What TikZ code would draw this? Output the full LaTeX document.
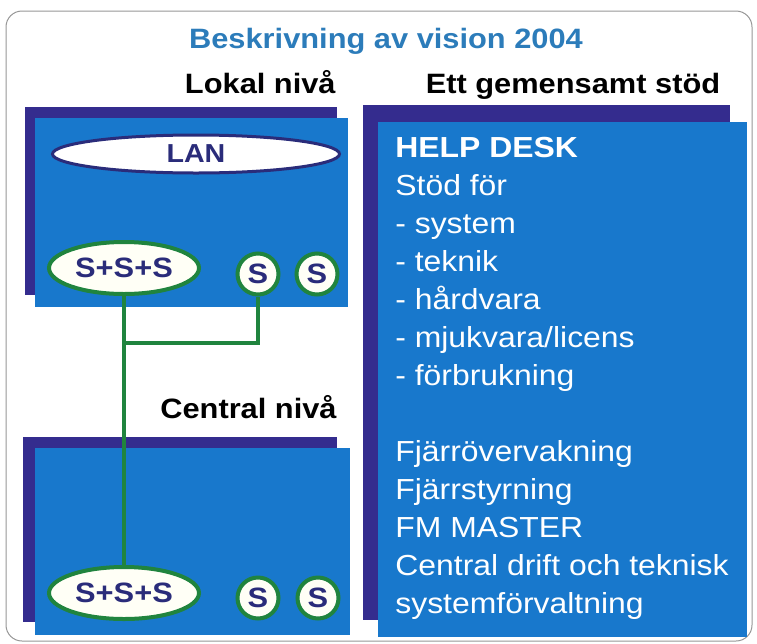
\documentclass[tikz,border=0pt]{standalone}
\usepackage{fontspec}
\setmainfont[FakeStretch=1.1]{Liberation Sans}
\usetikzlibrary{shapes.geometric}
\definecolor{boxblue}{RGB}{24,120,204}
\definecolor{boxpurple}{RGB}{52,44,142}
\definecolor{linkgreen}{RGB}{32,132,62}
\definecolor{navytext}{RGB}{42,44,122}
\definecolor{titleblue}{RGB}{44,124,186}
\tikzset{every picture/.style={line width=0.75pt}}
\tikzset{
  boxback/.style={fill=boxpurple, draw=none},
  boxfront/.style={fill=boxblue, draw=none},
  lanoval/.style={ellipse, draw=navytext, line width=3pt, fill=white, inner sep=0pt,
    minimum width=287pt, minimum height=38pt, text=navytext, font=\fontsize{26}{30}\selectfont\bfseries},
  srvoval/.style={ellipse, draw=linkgreen, line width=4pt, fill={rgb,255:red,255;green,255;blue,246}, inner sep=0pt,
    minimum width=150pt, minimum height=52pt, text=navytext, font=\fontsize{28}{30}\selectfont\bfseries},
  srvdot/.style={circle, draw=linkgreen, line width=4pt, fill={rgb,255:red,255;green,255;blue,246}, inner sep=0pt,
    minimum size=41pt, text=navytext, font=\fontsize{28}{30}\selectfont\bfseries},
  link/.style={draw=linkgreen, line width=4pt},
  heading/.style={inner sep=0pt, font=\fontsize{28}{30}\selectfont\bfseries},
  bodytext/.style={anchor=base west, inner sep=0pt, text=white, font=\fontsize{29}{30}\selectfont}
}

\begin{document}
\begin{tikzpicture}[x=1pt,y=1pt,yscale=-1,xscale=1]
\useasboundingbox (0,0) rectangle (757,643);

%Shape: outer frame
\draw [color={rgb, 255:red, 150; green, 150; blue, 150 }, line width=1pt, rounded corners=16pt] (6,11) rectangle (752,641) ;

% Text Node
\node [heading, anchor=base, text=titleblue] (title) at (386,48) {Beskrivning av vision 2004};
% Text Node
\node [heading, anchor=base east] (lokal) at (336,93) {Lokal nivå};
% Text Node
\node [heading, anchor=base] (gemensam) at (573,93) {Ett gemensamt stöd};
% Text Node
\node [heading, anchor=base east] (central) at (337,418) {Central nivå};

%Shape: local level box
\fill [boxback] (25,107) rectangle (337,295) ;
\fill [boxfront] (35,118) rectangle (348,307) ;
%Shape: central level box
\fill [boxback] (23,437) rectangle (337,622) ;
\fill [boxfront] (35,448) rectangle (350,635) ;
%Shape: support box
\fill [boxback] (363,105) rectangle (730,620) ;
\fill [boxfront] (378,122) rectangle (747,637) ;

% LAN
\node [lanoval] (lan) at (196,154) {LAN};

% servers, local level
\node [srvoval] (sssLokal) at (124,268) {S+S+S};
\node [srvdot] (sLokalA) at (258,274) {S};
\node [srvdot] (sLokalB) at (317,274) {S};

% servers, central level
\node [srvoval] (sssCentral) at (124,593) {S+S+S};
\node [srvdot] (sCentralA) at (258,598) {S};
\node [srvdot] (sCentralB) at (318,598) {S};

%Straight Lines
\coordinate (tee) at (124,343);
\draw [link] (sssLokal.south) -- (sssCentral.north) ;
\draw [link] (sLokalA.south) |- (tee) ;

% support text
\foreach \ypos/\txt [count=\i] in {157/{\bfseries HELP DESK}, 195/{Stöd för}, 233/{- system},
    271/{- teknik}, 309/{- hårdvara}, 347/{- mjukvara/licens}, 385/{- förbrukning},
    461/{Fjärrövervakning}, 499/{Fjärrstyrning}, 537/{FM MASTER},
    575/{Central drift och teknisk}, 613/{systemförvaltning}}
  \node [bodytext] (stod\i) at (395,\ypos) {\txt};

\end{tikzpicture}
\end{document}
